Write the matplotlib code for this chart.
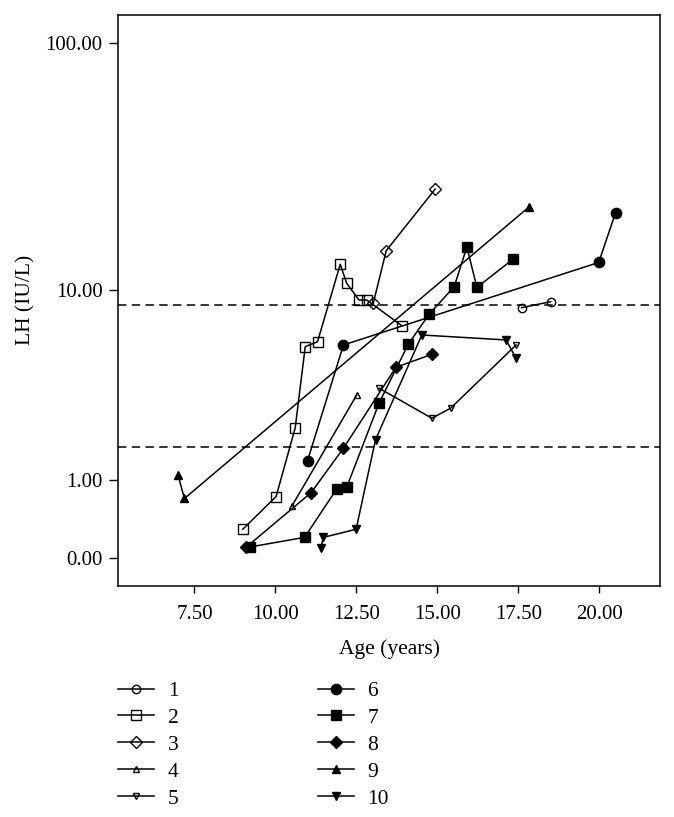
import numpy as np
import matplotlib
matplotlib.use("Agg")
import matplotlib.pyplot as plt

plt.rcParams['font.family'] = ['Liberation Serif', 'DejaVu Serif']

# ---- data (age in years, LH in IU/L) ----
s1_x = [17.6, 18.5]
s1_y = [8.4, 8.92]
s2_x = [8.99, 10.02, 10.61, 10.92, 11.30, 12.0, 12.2, 12.58, 12.82, 13.9]
s2_y = [0.29, 0.73, 2.2, 5.63, 5.93, 12.87, 10.7, 9.07, 9.07, 7.0]
s3_x = [13.02, 13.42, 14.93]
s3_y = [8.78, 14.67, 26.2]
s4_x = [10.51, 12.51]
s4_y = [0.59, 3.30]
s5_x = [13.21, 14.83, 15.41, 17.43]
s5_y = [3.56, 2.49, 2.82, 5.73]
s6_x = [10.99, 12.1, 19.98, 20.5]
s6_y = [1.385, 5.73, 13.1, 21.0]
s7_x = [9.2, 10.9, 11.89, 12.2, 13.2, 14.1, 14.74, 15.52, 15.91, 16.22, 17.33]
s7_y = [0.1, 0.2, 0.85, 0.88, 3.0, 5.77, 7.85, 10.35, 15.2, 10.28, 13.5]
s8_x = [9.1, 11.1, 12.1, 13.72, 14.83]
s8_y = [0.1, 0.79, 1.67, 4.51, 5.19]
s9_x = [6.99, 7.19, 17.83]
s9_y = [1.10, 0.70, 22.2]
s10_x = [11.40, 11.48, 12.49, 13.09, 14.52, 17.12, 17.43]
s10_y = [0.09, 0.20, 0.29, 1.88, 6.36, 6.04, 4.97]

series_labels = ['1', '2', '3', '4', '5', '6', '7', '8', '9', '10']
ref_lines = [8.6, 1.7]
x_ticks = [7.5, 10.0, 12.5, 15.0, 17.5, 20.0]
y_ticks = [0, 1, 10, 100]

series = [(s1_x, s1_y), (s2_x, s2_y), (s3_x, s3_y), (s4_x, s4_y), (s5_x, s5_y),
          (s6_x, s6_y), (s7_x, s7_y), (s8_x, s8_y), (s9_x, s9_y), (s10_x, s10_y)]

styles = [
    dict(marker='o', ms=6.0, mfc='none'),
    dict(marker='s', ms=6.8, mfc='none'),
    dict(marker='D', ms=5.8, mfc='none'),
    dict(marker='^', ms=5.0, mfc='none'),
    dict(marker='v', ms=5.0, mfc='none'),
    dict(marker='o', ms=7.4, mfc='black'),
    dict(marker='s', ms=7.4, mfc='black'),
    dict(marker='D', ms=6.4, mfc='black'),
    dict(marker='^', ms=5.8, mfc='black'),
    dict(marker='v', ms=5.8, mfc='black'),
]


def fwd(v):
    v = np.asarray(v, dtype=float)
    return np.log10(np.clip(1.0 + v, 1e-9, None))


def inv(v):
    return 10.0 ** np.asarray(v, dtype=float) - 1.0


fig = plt.figure(figsize=(6.74, 8.17), dpi=100)
ax = fig.add_axes([0.1758, 0.2827, 0.9788 - 0.1758, 0.982 - 0.2827])
ax.set_yscale('function', functions=(fwd, inv))

handles = []
for (xs, ys), st, lab in zip(series, styles, series_labels):
    h, = ax.plot(xs, ys, color='black', lw=1.1, mec='black', mew=1.0,
                 label=lab, **st)
    handles.append(h)

for r in ref_lines:
    ax.axhline(r, color='black', lw=1.1, ls=(0, (5.5, 3.5)))

ax.set_xlim(5.154, 21.864)
ax.set_ylim(-0.2243, 128.9)
ax.set_xticks(x_ticks)
ax.set_xticklabels([f"{t:.2f}" for t in x_ticks])
ax.set_yticks(y_ticks)
ax.set_yticklabels([f"{t:.2f}" for t in y_ticks])
ax.yaxis.set_minor_locator(matplotlib.ticker.NullLocator())
ax.tick_params(axis='y', direction='out', length=6.5, width=1.0, pad=5, labelsize=15)
ax.tick_params(axis='x', direction='out', length=5, width=1.0, pad=8.5, labelsize=15)
for sp in ax.spines.values():
    sp.set_linewidth(1.1)

ax.set_xlabel('Age (years)', fontsize=15.5, labelpad=11)
ax.set_ylabel('LH (IU/L)', fontsize=15.5, labelpad=7)

ax.legend(handles=handles, ncol=2, loc='upper left',
          bbox_to_anchor=(0.1755, 0.1665), bbox_transform=fig.transFigure,
          frameon=False, fontsize=15.5, borderpad=0, borderaxespad=0,
          handlelength=1.68, handletextpad=0.63, columnspacing=6.45,
          labelspacing=0.32)

fig.savefig('out.png', dpi=100)
